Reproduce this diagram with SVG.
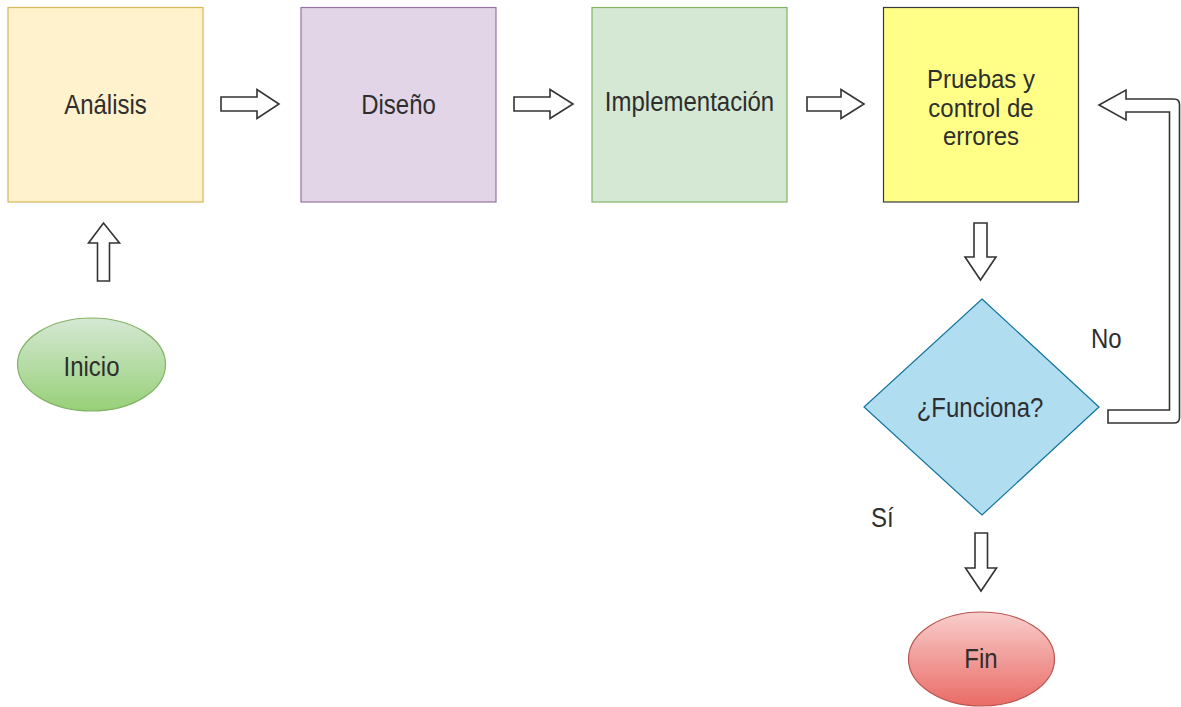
<svg xmlns="http://www.w3.org/2000/svg" width="1181" height="707" viewBox="0 0 1181 707">
  <defs>
    <linearGradient id="gradGreen" x1="0" y1="0" x2="0" y2="1">
      <stop offset="0" stop-color="#d5e8d4"/>
      <stop offset="1" stop-color="#97d077"/>
    </linearGradient>
    <linearGradient id="gradRed" x1="0" y1="0" x2="0" y2="1">
      <stop offset="0" stop-color="#f8cecc"/>
      <stop offset="1" stop-color="#ea6b66"/>
    </linearGradient>
    <style>
      /* labels are slightly tall: 24px glyphs stretched vertically */
      .lbl { font-family: "Liberation Sans", Arial, sans-serif; font-size: 24px; fill: #2e2e2e; text-anchor: middle; }
      .edge-lbl { font-family: "Liberation Sans", Arial, sans-serif; font-size: 24px; fill: #2e2e2e; }
      .flex { fill: #ffffff; stroke: #333333; stroke-width: 1.6; stroke-linejoin: miter; }
    </style>
  </defs>
  <rect width="1181" height="707" fill="#ffffff"/>

  <!-- process boxes -->
  <g id="analisis">
    <rect x="8" y="7.5" width="195" height="194.5" fill="#fff2cc" stroke="#d6b656" stroke-width="1.2"/>
    <text class="lbl" transform="translate(105.5,114) scale(1,1.12)">Análisis</text>
  </g>
  <g id="diseno">
    <rect x="301" y="7.5" width="195" height="194.5" fill="#e1d5e7" stroke="#9673a6" stroke-width="1.2"/>
    <text class="lbl" transform="translate(398.5,114) scale(1,1.12)">Diseño</text>
  </g>
  <g id="implementacion">
    <rect x="592" y="7.5" width="195" height="194.5" fill="#d5e8d4" stroke="#82b366" stroke-width="1.2"/>
    <text class="lbl" transform="translate(689.5,111) scale(1,1.12)">Implementación</text>
  </g>
  <g id="pruebas">
    <rect x="883.5" y="7.5" width="195" height="194.5" fill="#ffff88" stroke="#36393d" stroke-width="1.2"/>
    <text class="lbl" transform="translate(981,88) scale(1,1.08)">Pruebas y</text>
    <text class="lbl" transform="translate(981,117) scale(1,1.08)">control de</text>
    <text class="lbl" transform="translate(981,145) scale(1,1.08)">errores</text>
  </g>

  <!-- start / end terminals -->
  <g id="inicio">
    <ellipse cx="91.5" cy="364.5" rx="74" ry="46.5" fill="url(#gradGreen)" stroke="#82b366" stroke-width="1.2"/>
    <text class="lbl" transform="translate(91.5,376) scale(1,1.12)">Inicio</text>
  </g>
  <g id="fin">
    <ellipse cx="981.5" cy="659" rx="73" ry="47" fill="url(#gradRed)" stroke="#b85450" stroke-width="1.2"/>
    <text class="lbl" transform="translate(981,668) scale(1,1.12)">Fin</text>
  </g>

  <!-- decision -->
  <g id="funciona">
    <polygon points="982,299 1099,407 982,515 864,407" fill="#b1ddf0" stroke="#10739e" stroke-width="1.2"/>
    <text class="lbl" transform="translate(980,417) scale(1,1.12)">¿Funciona?</text>
  </g>

  <!-- connectors (block arrows) -->
  <g id="connectors">
    <!-- Análisis -> Diseño -->
    <polygon class="flex" points="221,97 257,97 257,89.5 279,104 257,118.5 257,111 221,111"/>
    <!-- Diseño -> Implementación -->
    <polygon class="flex" points="514,97 550,97 550,89.5 573,104 550,118.5 550,111 514,111"/>
    <!-- Implementación -> Pruebas -->
    <polygon class="flex" points="807,97 841,97 841,89.5 864,104 841,118.5 841,111 807,111"/>
    <!-- Inicio -> Análisis -->
    <polygon class="flex" points="97.5,281 97.5,243 88.5,243 103.5,223 119.5,243 109.5,243 109.5,281"/>
    <!-- Pruebas -> ¿Funciona? -->
    <polygon class="flex" points="974,223 987,223 987,257 996,257 980.5,280 965,257 974,257"/>
    <!-- ¿Funciona? -> Fin (Sí) -->
    <polygon class="flex" points="975,533 987.5,533 987.5,568 996.5,568 981,591 965.5,568 975,568"/>
    <!-- ¿Funciona? -> Pruebas (No) -->
    <path class="flex" d="M1108,410 L1169.5,410 L1169.5,112 L1126,112 L1126,120 L1099,105 L1126,90 L1126,99 L1174,99 Q1179.5,99 1179.5,104.5 L1179.5,417.5 Q1179.5,423 1174,423 L1108,423 Z"/>
    <text class="edge-lbl" transform="translate(1091,348) scale(1,1.12)">No</text>
    <text class="edge-lbl" transform="translate(871,527) scale(1,1.12)">Sí</text>
  </g>
</svg>
